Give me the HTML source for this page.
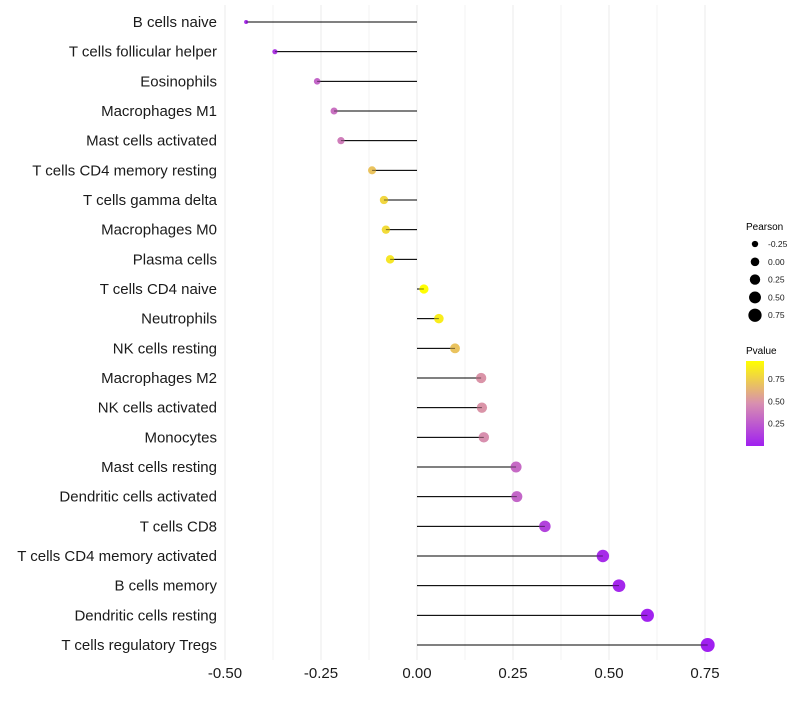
<!DOCTYPE html>
<html><head><meta charset="utf-8">
<style>
body{margin:0;background:#fff;font-family:"Liberation Sans",sans-serif;}
svg text{font-family:"Liberation Sans",sans-serif;}
</style></head>
<body>
<svg id="chart" width="800" height="700">
<defs>
<linearGradient id="pg" x1="0" y1="1" x2="0" y2="0">
<stop offset="0" stop-color="#a020f0"/>
<stop offset="0.5" stop-color="#d88fb0"/>
<stop offset="1" stop-color="#ffff00"/>
</linearGradient>
</defs>
<g id="grid"></g>
<g id="marks"></g>
<g id="ylabels"></g>
<g id="xlabels"></g>
<g>
<text x="746" y="230" font-size="10">Pearson</text>
<g id="sizeleg"></g>
</g>
<g>
<text x="746" y="354" font-size="10">Pvalue</text>
<rect x="746" y="361" width="18" height="85" fill="url(#pg)"/>
<g id="colleg"></g>
</g>
</svg>
<script>
const categories=["B cells naive","T cells follicular helper","Eosinophils","Macrophages M1","Mast cells activated","T cells CD4 memory resting","T cells gamma delta","Macrophages M0","Plasma cells","T cells CD4 naive","Neutrophils","NK cells resting","Macrophages M2","NK cells activated","Monocytes","Mast cells resting","Dendritic cells activated","T cells CD8","T cells CD4 memory activated","B cells memory","Dendritic cells resting","T cells regulatory  Tregs"];
const pearson=[-0.445,-0.37,-0.26,-0.216,-0.198,-0.117,-0.086,-0.081,-0.07,0.018,0.057,0.099,0.167,0.169,0.174,0.258,0.26,0.333,0.484,0.526,0.60,0.757];
const pvalue=[0.05,0.1,0.3,0.35,0.4,0.7,0.78,0.8,0.85,0.95,0.88,0.7,0.5,0.5,0.48,0.32,0.3,0.15,0.05,0.03,0.01,0.001];
const xTicks=[-0.5,-0.25,0,0.25,0.5,0.75];
const xTickLabels=["-0.50","-0.25","0.00","0.25","0.50","0.75"];
const sizeLegendValues=[-0.25,0,0.25,0.5,0.75];
const sizeLegendLabels=["-0.25","0.00","0.25","0.50","0.75"];
const colorLegendValues=[0.25,0.5,0.75];
const colorLegendLabels=["0.25","0.50","0.75"];

const NS="http://www.w3.org/2000/svg";
const x=v=>417+v*384;
const y=i=>22+i*(623/21);
const r=v=>Math.sqrt(Math.max(1,20.6+37.4*v));
const pmin=0,pmax=0.955;
function lerp(a,b,t){return a.map((c,k)=>Math.round(c+(b[k]-c)*t));}
function col(p){let t=(p-pmin)/(pmax-pmin);t=Math.max(0,Math.min(1,t));
 const a=[160,32,240],m=[216,143,176],b=[255,255,0];
 const c=t<0.5?lerp(a,m,t/0.5):lerp(m,b,(t-0.5)/0.5);return `rgb(${c})`;}
function mk(tag,attrs,parent){const e=document.createElementNS(NS,tag);for(const k in attrs)e.setAttribute(k,attrs[k]);parent.appendChild(e);return e;}
const grid=document.getElementById('grid');
for(let v=-0.5;v<=0.751;v+=0.125){
 const major=Math.abs(v*4-Math.round(v*4))<1e-6;
 const gl=mk('line',{x1:x(v),x2:x(v),y1:5,y2:660,stroke:major?'#ebebeb':'#f3f3f3','stroke-width':1},grid);
 
 
}
const marks=document.getElementById('marks'),yl=document.getElementById('ylabels');
categories.forEach((c,i)=>{
 const g=mk('g',{},marks);
 
 
 const s=mk('line',{x1:x(0),x2:x(pearson[i]),y1:y(i),y2:y(i),stroke:'#000','stroke-width':1},g);
 
 
 const d=mk('circle',{cx:x(pearson[i]),cy:y(i),r:r(pearson[i]),fill:col(pvalue[i])},g);
 
 
 const s2=mk('line',{x1:x(0),x2:x(pearson[i]),y1:y(i),y2:y(i),stroke:'#000','stroke-width':1,'stroke-opacity':0.5},g);
 
 
 const t=mk('text',{x:217,y:y(i)+5,'text-anchor':'end','font-size':15,fill:'#1a1a1a'},yl);
 t.textContent=c;
 
 
});
const xl=document.getElementById('xlabels');
xTicks.forEach((v,i)=>{
 const t=mk('text',{x:x(v),y:678,'text-anchor':'middle','font-size':15,fill:'#1a1a1a'},xl);
 t.setAttribute('y',678);
 t.textContent=xTickLabels[i];
 
 
});
const sl=document.getElementById('sizeleg');
sizeLegendValues.forEach((v,i)=>{
 const yy=244+i*17.8;
 const c=mk('circle',{cx:755,cy:yy,r:r(v)*0.95,fill:'#000'},sl);
 
 
 const t=mk('text',{x:768,y:yy+3,'font-size':8.5,fill:'#1a1a1a'},sl);
 t.textContent=sizeLegendLabels[i];
 
 
});
const cl=document.getElementById('colleg');
colorLegendValues.forEach((v,i)=>{
 const yy=446-(v-pmin)/(pmax-pmin)*85;
 const t=mk('text',{x:768,y:yy+3,'font-size':8.5,fill:'#1a1a1a'},cl);
 t.textContent=colorLegendLabels[i];
 
 
});
</script>
</body></html>
